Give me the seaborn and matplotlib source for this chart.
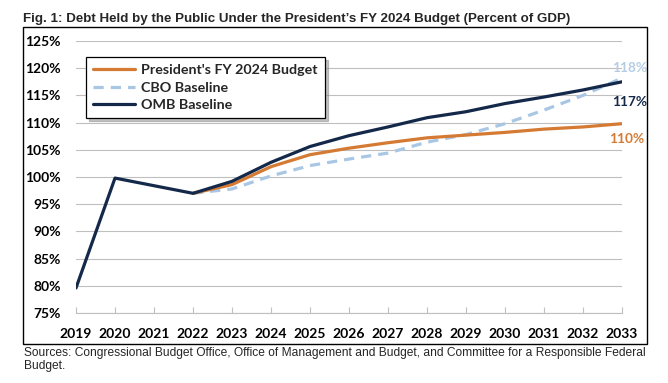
import numpy as np
import pandas as pd
import matplotlib
matplotlib.use("Agg")
import matplotlib.pyplot as plt
import seaborn as sns
from matplotlib.lines import Line2D
from matplotlib.patches import Rectangle

# ---- data ----
years = list(range(2019, 2034))
omb_baseline = [79.6, 99.8, 98.4, 97.0, 99.2, 102.7, 105.6, 107.6, 109.2, 110.9, 112.0, 113.5, 114.7, 116.0, 117.5]
proj_years = list(range(2022, 2034))
president_budget = [97.0, 98.6, 101.9, 104.1, 105.3, 106.3, 107.2, 107.7, 108.2, 108.8, 109.2, 109.8]
cbo_baseline = [97.0, 97.8, 100.2, 102.1, 103.3, 104.4, 106.4, 107.8, 109.8, 112.3, 115.0, 118.2]
series_names = ["President's FY 2024 Budget", "CBO Baseline", "OMB Baseline"]
end_labels = ["110%", "118%", "117%"]
y_ticks = list(range(75, 130, 5))

title = "Fig. 1: Debt Held by the Public Under the President\u2019s FY 2024 Budget (Percent of GDP)"
source = ("Sources: Congressional Budget Office, Office of Management and Budget, and Committee for a Responsible Federal\n"
          "Budget.")

df = pd.concat([
    pd.DataFrame({"year": proj_years, "value": president_budget, "series": series_names[0]}),
    pd.DataFrame({"year": proj_years, "value": cbo_baseline, "series": series_names[1]}),
    pd.DataFrame({"year": years, "value": omb_baseline, "series": series_names[2]}),
])

ORANGE = "#D47A33"
LBLUE = "#A9C7E4"
NAVY = "#14294A"
GRID = "#BFBFBF"

sns.set_theme(style="white")
plt.rcParams["font.family"] = ["Lato", "DejaVu Sans"]

W, H = 668, 383
fig = plt.figure(figsize=(W / 100, H / 100), dpi=100)
ax = fig.add_axes([76 / W, 1 - 313 / H, (622 - 76) / W, (313 - 41) / H])

styles = {
    series_names[0]: dict(color=ORANGE, ls="-"),
    series_names[1]: dict(color=LBLUE, ls=(0, (3.2, 2.2))),
    series_names[2]: dict(color=NAVY, ls="-"),
}
for name in [series_names[1], series_names[0], series_names[2]]:
    sub = df[df["series"] == name]
    sns.lineplot(data=sub, x="year", y="value", ax=ax, color=styles[name]["color"],
                 linestyle=styles[name]["ls"], linewidth=2.3, legend=False,
                 zorder=3 if name != series_names[1] else 2)

ax.set_xlim(2019, 2033)
ax.set_ylim(75, 125)
ax.set_xticks(years)
ax.set_xticklabels([str(y) for y in years])
ax.set_yticks(y_ticks)
ax.set_yticklabels([f"{v}%" for v in y_ticks])
ax.set_xlabel("")
ax.set_ylabel("")
for s in ["top", "right", "left"]:
    ax.spines[s].set_visible(False)
ax.spines["bottom"].set_color(GRID)
ax.spines["bottom"].set_linewidth(0.8)
ax.grid(axis="y", color=GRID, linewidth=0.8)
ax.grid(axis="x", visible=False)
ax.set_axisbelow(True)
ax.tick_params(axis="x", direction="in", length=4, width=0.8, color=GRID, pad=11,
               labelsize=10, bottom=True)
ax.tick_params(axis="y", length=0, pad=11, labelsize=10)
for lab in ax.get_xticklabels() + ax.get_yticklabels():
    lab.set_fontweight("bold")
    lab.set_color("black")

# end labels
ends = [(president_budget[-1], end_labels[0], ORANGE, (-13, -15)),
        (cbo_baseline[-1], end_labels[1], "#B4CDE4", (-10, 10)),
        (omb_baseline[-1], end_labels[2], NAVY, (-10, -20))]
for val, txt, col, off in ends:
    ax.annotate(txt, xy=(years[-1], val), xytext=off, textcoords="offset pixels",
                ha="left", va="center", color=col, fontsize=9.8, fontweight="bold",
                annotation_clip=False)

# legend
handles = [Line2D([0], [0], color=ORANGE, lw=2.3),
           Line2D([0], [0], color=LBLUE, lw=2.3, ls=(0, (3.2, 2.2))),
           Line2D([0], [0], color=NAVY, lw=2.3)]
leg = ax.legend(handles, series_names, loc="upper left",
                bbox_to_anchor=((86 - 76) / 546, 1 - (57 - 41) / 272),
                borderaxespad=0,
                frameon=True, fancybox=False, shadow={"color": "#888888", "alpha": 0.5},
                edgecolor="black", framealpha=1, handlelength=2.9, handletextpad=0.45,
                labelspacing=0.38, borderpad=0.5, prop={"weight": "bold", "size": 10.3})
leg.get_frame().set_linewidth(0.9)

# outer frame
fig.patches.append(Rectangle((23 / W, 1 - 344 / H), (647 - 23) / W, (344 - 27) / H,
                             transform=fig.transFigure, fill=False, edgecolor="black",
                             linewidth=1.0))

fig.text(23 / W, 1 - 19 / H, title, ha="left", va="center", fontsize=9.6,
         fontweight="bold", family=["Liberation Sans", "DejaVu Sans"])
fig.text(24 / W, 1 - 347 / H, source, ha="left", va="top", fontsize=8.65,
         family=["Liberation Sans", "DejaVu Sans"], linespacing=1.1)

fig.savefig("out.png", dpi=100)
